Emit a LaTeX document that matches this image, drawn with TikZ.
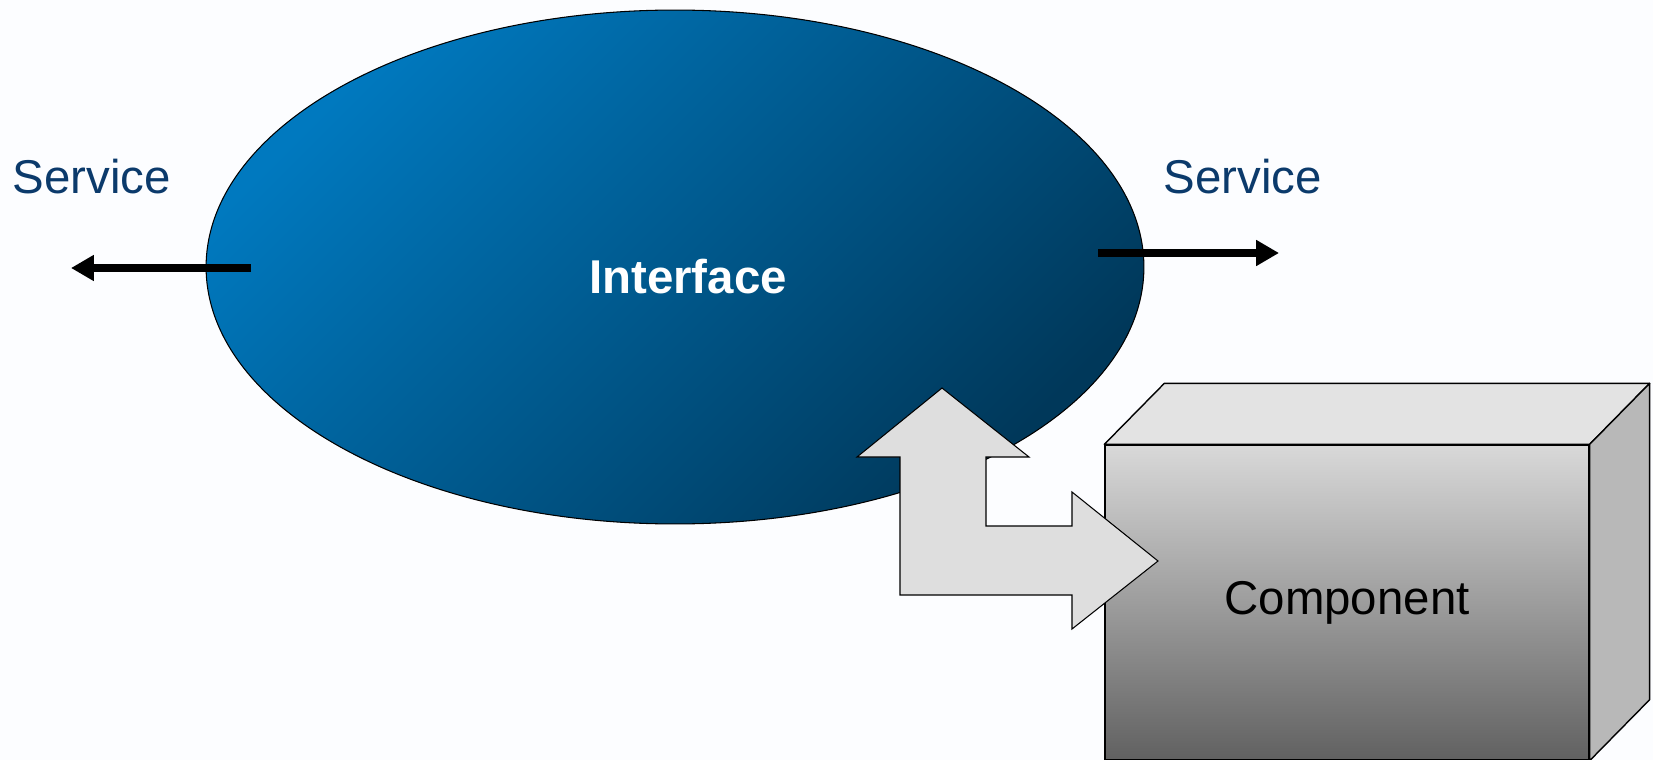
\documentclass[tikz,border=0pt]{standalone}
\usepackage{fontspec}
\setmainfont{Liberation Sans}
\usetikzlibrary{arrows.meta, calc, positioning, shapes.geometric}
\definecolor{hell}{HTML}{0079BF}
\definecolor{dunkel}{HTML}{00385A}
\definecolor{schrift}{HTML}{0B3A6B}
\definecolor{pfeilgrau}{HTML}{DEDEDE}
\definecolor{hinter}{HTML}{FCFDFF}

\begin{document}
\begin{tikzpicture}[x=0.02cm, y=-0.02cm,
        blase/.style={ellipse, draw=black, semithick, inner sep=0pt,
                     minimum width=18.76cm, minimum height=10.28cm,
                     top color=hell, bottom color=dunkel, shading angle=45},
        titel/.style={text=white, font=\fontsize{27}{32}\selectfont\bfseries},
        kasten/.style={draw=black, thick, inner sep=0pt, minimum width=9.68cm,
                     minimum height=6.3cm, top color=black!15, bottom color=black!62,
                     font=\fontsize{27}{32}\selectfont},
        flaeche/.style={draw=black, thick, line join=round},
        dienst/.style={text=schrift, font=\fontsize{27}{32}\selectfont},
        pfeil/.style={-{Triangle[length=13pt, width=14pt]}, line width=4pt},
        doppel/.style={draw=black, semithick, fill=pfeilgrau, line join=miter}
      ]
      \fill[hinter] (0,0) rectangle (1653,760);
      \useasboundingbox (0,0) rectangle (1653,760);

      % Interface
      \node[blase] (iface) at (675,267) {};
      \node[titel] (iname) at (688,277) {Interface};

      % Services links und rechts
      \node[dienst] (sl) at (92,177) {Service};
      \node[dienst] (sr) at (1243,177) {Service};
      \coordinate (la) at (251,268);
      \coordinate (le) at (71,268);
      \coordinate (ra) at (1098,253);
      \coordinate (re) at (1279,253);
      \draw[pfeil] (la) -- (le);
      \draw[pfeil] (ra) -- (re);

      % Component als Quader
      \node[kasten] (komp) at (1347,602.5) {Component};
      \draw[flaeche, fill=black!11] (komp.north west) -- ++(60,-61)
            -- ($(komp.north east)+(60,-61)$) -- (komp.north east) -- cycle;
      \draw[flaeche, fill=black!28] (komp.north east) -- ++(60,-61)
            -- ($(komp.south east)+(60,-61)$) -- (komp.south east) -- cycle;

      % Doppelpfeil
      \draw[doppel] (942,388) -- (1029,457) -- (986,457) -- (986,526)
            -- (1072,526) -- (1072,492) -- (1158,561) -- (1072,629)
            -- (1072,595) -- (900,595) -- (900,457) -- (857,457) -- cycle;
    \end{tikzpicture}
\end{document}
